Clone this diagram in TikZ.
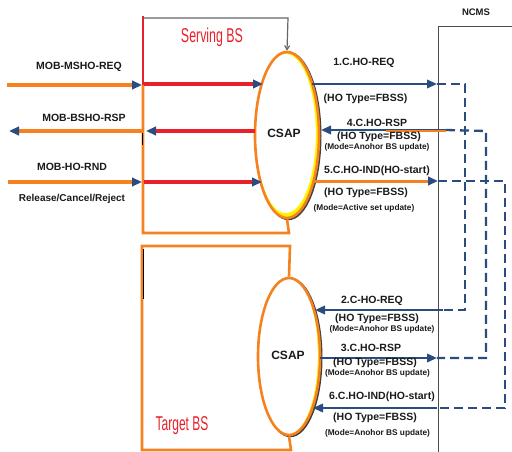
\documentclass[tikz,border=0pt]{standalone}
\usepackage{fontspec}
\setmainfont{Liberation Sans}
\usetikzlibrary{arrows.meta,shapes.geometric}
\definecolor{flowblue}{HTML}{2A4C80}
\definecolor{bsorange}{HTML}{F5821F}
\definecolor{bsred}{HTML}{E8202A}
\definecolor{csapyellow}{HTML}{FFF200}
\definecolor{txt}{HTML}{1A1A1A}
\tikzset{
  tip/.style={-{Triangle[length=10pt,width=8.5pt,color=flowblue]}},
  orangemsg/.style={tip, draw=bsorange, line width=3.6pt},
  redmsg/.style={tip, draw=bsred, line width=3.6pt},
  bluemsg/.style={tip, draw=flowblue, line width=2pt},
  relay/.style={draw=flowblue, line width=2.3pt, dash pattern=on 9pt off 5pt},
  bsframe/.style={draw=bsorange, line width=2.6pt},
  csap/.style={ellipse, draw=bsorange, line width=2.6pt, fill=csapyellow,
    inner sep=0pt, font=\bfseries\fontsize{12}{12}\selectfont, text=txt,
    preaction={draw=black!75, line width=2.4pt, transform canvas={xshift=1.3pt,yshift=-1pt}},
    path picture={\fill[white] ([xshift=-1.2pt,yshift=1.5pt]path picture bounding box.center) ellipse (30pt and 79.5pt);}},
  lbl/.style={font=\bfseries\fontsize{10.5}{11}\selectfont, text=txt, inner sep=0pt},
  sublbl/.style={font=\bfseries\fontsize{8.3}{9}\selectfont, text=txt, inner sep=0pt},
  bstitle/.style={text=bsred, inner sep=0pt, font=\fontsize{20}{20}\selectfont}
}
\begin{document}
\begin{tikzpicture}[x=1pt,y=-1pt]
\useasboundingbox (0,0) rectangle (512,452);

% ---------- NCMS frame ----------
\coordinate (ncmsBL) at (438,452);
\coordinate (ncmsTL) at (438,27);
\coordinate (ncmsTR) at (512,27);
\draw[black!70, line width=1pt] (ncmsBL) -- (ncmsTL) -- (ncmsTR);
\node[lbl, font=\bfseries\fontsize{9.5}{10}\selectfont] (ncms) at (476,12) {NCMS};

% ---------- CSAP ellipses ----------
\node[csap, minimum width=64pt, minimum height=166pt] (csapS) at (287,135) {\raisebox{3pt}{CSAP}\hspace*{6pt}};
\node[csap, minimum width=62pt, minimum height=157pt] (csapT) at (289,356.5) {\raisebox{3pt}{CSAP}\hspace*{2pt}};

% ---------- Serving BS frame ----------
\coordinate (sTL) at (143,16);
\coordinate (sL) at (143,85);
\coordinate (sBL) at (143,233);
\coordinate (sBR) at (289,233);
\coordinate (sTop) at (288,18);
\coordinate (sTopL) at (143,18);
\draw[bsred, line width=2.6pt] (sTL) -- (sL);
\draw[bsframe] (sL) -- (sBL) -- (sBR) -- (csapS.south);
\draw[black!60, line width=1.2pt, -{Straight Barb[length=4pt,width=5pt]}] (sTopL) -- (sTop) -- (csapS.north);
\node[bstitle] (sname) at (212,37) {\scalebox{0.62}[1]{Serving BS}};

% ---------- Target BS frame ----------
\coordinate (tTR) at (290,246);
\coordinate (tTL) at (142,246);
\coordinate (tBL) at (142,450);
\coordinate (tBR) at (291,450);
\draw[bsframe] (csapT.north) -- (tTR) -- (tTL) -- (tBL) -- (tBR) -- (csapT.south);
\coordinate (tk1) at (143.5,249);
\coordinate (tk2) at (143.5,299);
\draw[black, line width=0.8pt] (tk1) -- (tk2);
\node[bstitle] (tname) at (182,426) {\scalebox{0.6}[1]{Target BS}};

% ---------- MS side messages ----------
\coordinate (m1a) at (7,85);   \coordinate (m1b) at (142,85);
\coordinate (m1c) at (144,84); \coordinate (m1d) at (263,84);
\draw[orangemsg] (m1a) -- (m1b);
\draw[redmsg] (m1c) -- (m1d);
\node[lbl] (t1) at (79,67) {MOB-MSHO-REQ};

\coordinate (m2a) at (255,131); \coordinate (m2b) at (146,131);
\coordinate (m2c) at (143,131); \coordinate (m2d) at (9,131);
\draw[redmsg] (m2a) -- (m2b);
\draw[orangemsg] (m2c) -- (m2d);
\coordinate (tk3) at (142,133); \coordinate (tk4) at (142,145);
\draw[black, line width=0.8pt] (tk3) -- (tk4);
\node[lbl] (t2) at (84,118) {MOB-BSHO-RSP};

\coordinate (m3a) at (8,182);   \coordinate (m3b) at (142,182);
\coordinate (m3c) at (144,182); \coordinate (m3d) at (262,182);
\draw[orangemsg] (m3a) -- (m3b);
\draw[redmsg] (m3c) -- (m3d);
\node[lbl] (t3) at (72,167) {MOB-HO-RND};
\node[lbl, font=\bfseries\fontsize{10}{11}\selectfont] (t3b) at (72,199) {Release/Cancel/Reject};

% ---------- Backbone messages, serving side ----------
\coordinate (c1a) at (312,84);  \coordinate (c1b) at (437,84);
\draw[bluemsg] (c1a) -- (c1b);
\node[lbl] (l1) at (364,63) {1.C.HO-REQ};
\node[lbl] (l1b) at (365.5,99) {(HO Type=FBSS)};

\coordinate (c4a) at (446,130); \coordinate (c4b) at (321,130);
\coordinate (c4o) at (386,131.5); \coordinate (c4e) at (446,131.5);
\draw[bluemsg] (c4a) -- (c4b);
\draw[bsorange, line width=2pt] (c4o) -- (c4e);
\node[lbl] (l4) at (377,123) {4.C.HO-RSP};
\node[lbl] (l4b) at (379,137) {(HO Type=FBSS)};
\node[sublbl] (l4c) at (377,147) {(Mode=Anohor BS update)};

\coordinate (c5a) at (314,181); \coordinate (c5b) at (438,181);
\draw[tip, draw=bsorange, line width=3pt] (c5a) -- (c5b);
\node[lbl] (l5) at (377,171) {5.C.HO-IND(HO-start)};
\node[lbl] (l5b) at (366,193) {(HO Type=FBSS)};
\node[sublbl] (l5c) at (364,208) {(Mode=Active set update)};

% ---------- Backbone messages, target side ----------
\coordinate (c2a) at (443,310); \coordinate (c2b) at (315,310);
\draw[bluemsg] (c2a) -- (c2b);
\node[lbl] (l2) at (372,301) {2.C-HO-REQ};
\node[lbl] (l2b) at (377,319) {(HO Type=FBSS)};
\node[sublbl] (l2c) at (382,329) {(Mode=Anohor BS update)};

\coordinate (c3a) at (320,358); \coordinate (c3b) at (437,358);
\draw[bluemsg] (c3a) -- (c3b);
\node[lbl] (l3) at (371,348) {3.C.HO-RSP};
\node[lbl] (l3b) at (375,363) {(HO Type=FBSS)};
\node[sublbl] (l3c) at (377.5,373) {(Mode=Anohor BS update)};

\coordinate (c6a) at (437,408); \coordinate (c6b) at (313,408);
\draw[bluemsg] (c6a) -- (c6b);
\node[lbl] (l6) at (382,397) {6.C.HO-IND(HO-start)};
\node[lbl] (l6b) at (375,418) {(HO Type=FBSS)};
\node[sublbl] (l6c) at (377.5,433) {(Mode=Anohor BS update)};

% ---------- Relays inside the NCMS ----------
\coordinate (r1a) at (465,84);  \coordinate (r1b) at (465,310);
\draw[relay] (c1b) -- (r1a) -- (r1b) -- (c2a);
\coordinate (r2a) at (486,131); \coordinate (r2b) at (486,358);
\draw[relay] (c4a) -- (r2a) -- (r2b) -- (c3b);
\coordinate (r3a) at (505,181); \coordinate (r3b) at (505,408);
\draw[relay] (c5b) -- (r3a) -- (r3b) -- (c6a);
\end{tikzpicture}
\end{document}
